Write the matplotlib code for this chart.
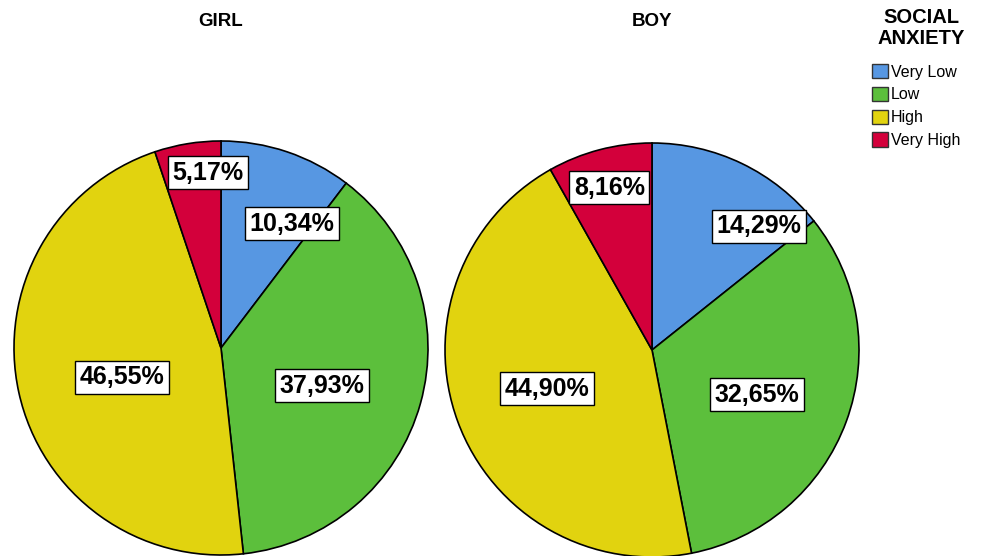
import numpy as np
import matplotlib
matplotlib.use("Agg")
import matplotlib.pyplot as plt
from matplotlib.patches import Patch

plt.rcParams['font.family'] = ['Liberation Sans', 'DejaVu Sans']

# data
categories = ['Very Low', 'Low', 'High', 'Very High']
groups = ['GIRL', 'BOY']
girl_pct = [10.34, 37.93, 46.55, 5.17]
boy_pct = [14.29, 32.65, 44.90, 8.16]
colors = ['#5797e2', '#5cbf3c', '#e1d30f', '#d3003b']

# label placement (radius fraction, angle offset in degrees) per slice
label_pos = {
    'GIRL': [(0.69, 11), (0.52, 5), (0.50, -4), (0.85, 5)],
    'BOY': [(0.79, 15), (0.55, 3), (0.54, 0), (0.81, 0)],
}

fig = plt.figure(figsize=(9.86, 5.56), dpi=100)

W, H = 986, 556
pies = [('GIRL', girl_pct, 221, 348, 207), ('BOY', boy_pct, 652, 350, 207)]

for name, vals, cx, cy, r in pies:
    pad = 1.01
    size = 2 * r * pad
    ax = fig.add_axes([(cx - r * pad) / W, 1 - (cy + r * pad) / H, size / W, size / H])
    wedges, _ = ax.pie(vals, colors=colors, startangle=90, counterclock=False,
                       wedgeprops=dict(edgecolor='black', linewidth=1.2))
    ax.set_xlim(-pad, pad)
    ax.set_ylim(-pad, pad)
    ax.set_aspect('equal')
    ax.axis('off')

    cum = 0
    for v, (rf, off) in zip(vals, label_pos[name]):
        mid = (cum + v / 2) * 3.6 + off
        cum += v
        a = np.deg2rad(mid)
        x, y = rf * np.sin(a), rf * np.cos(a)
        ax.text(x, y, f"{v:.2f}%".replace('.', ','), ha='center', va='center',
                fontsize=18, fontweight='bold',
                bbox=dict(boxstyle='square,pad=0.18', fc='white', ec='black', lw=1))

    fig.text(cx / W, 1 - 22 / H, name, ha='center', va='center',
             fontsize=13.5, fontweight='bold')

# legend title
fig.text(921 / W, 1 - 28 / H, 'SOCIAL\nANXIETY', ha='center', va='center',
         fontsize=14.5, fontweight='bold', linespacing=1.15)

handles = [Patch(facecolor=c, edgecolor='#333333', label=l) for c, l in zip(colors, categories)]
leg = fig.legend(handles=handles, loc='upper left',
                 bbox_to_anchor=(872 / W, 1 - 64 / H), frameon=False,
                 fontsize=11.5, handlelength=1.0, handleheight=1.0, handletextpad=0.2,
                 labelspacing=0.45, borderaxespad=0, borderpad=0)

fig.savefig('out.png', dpi=100)
